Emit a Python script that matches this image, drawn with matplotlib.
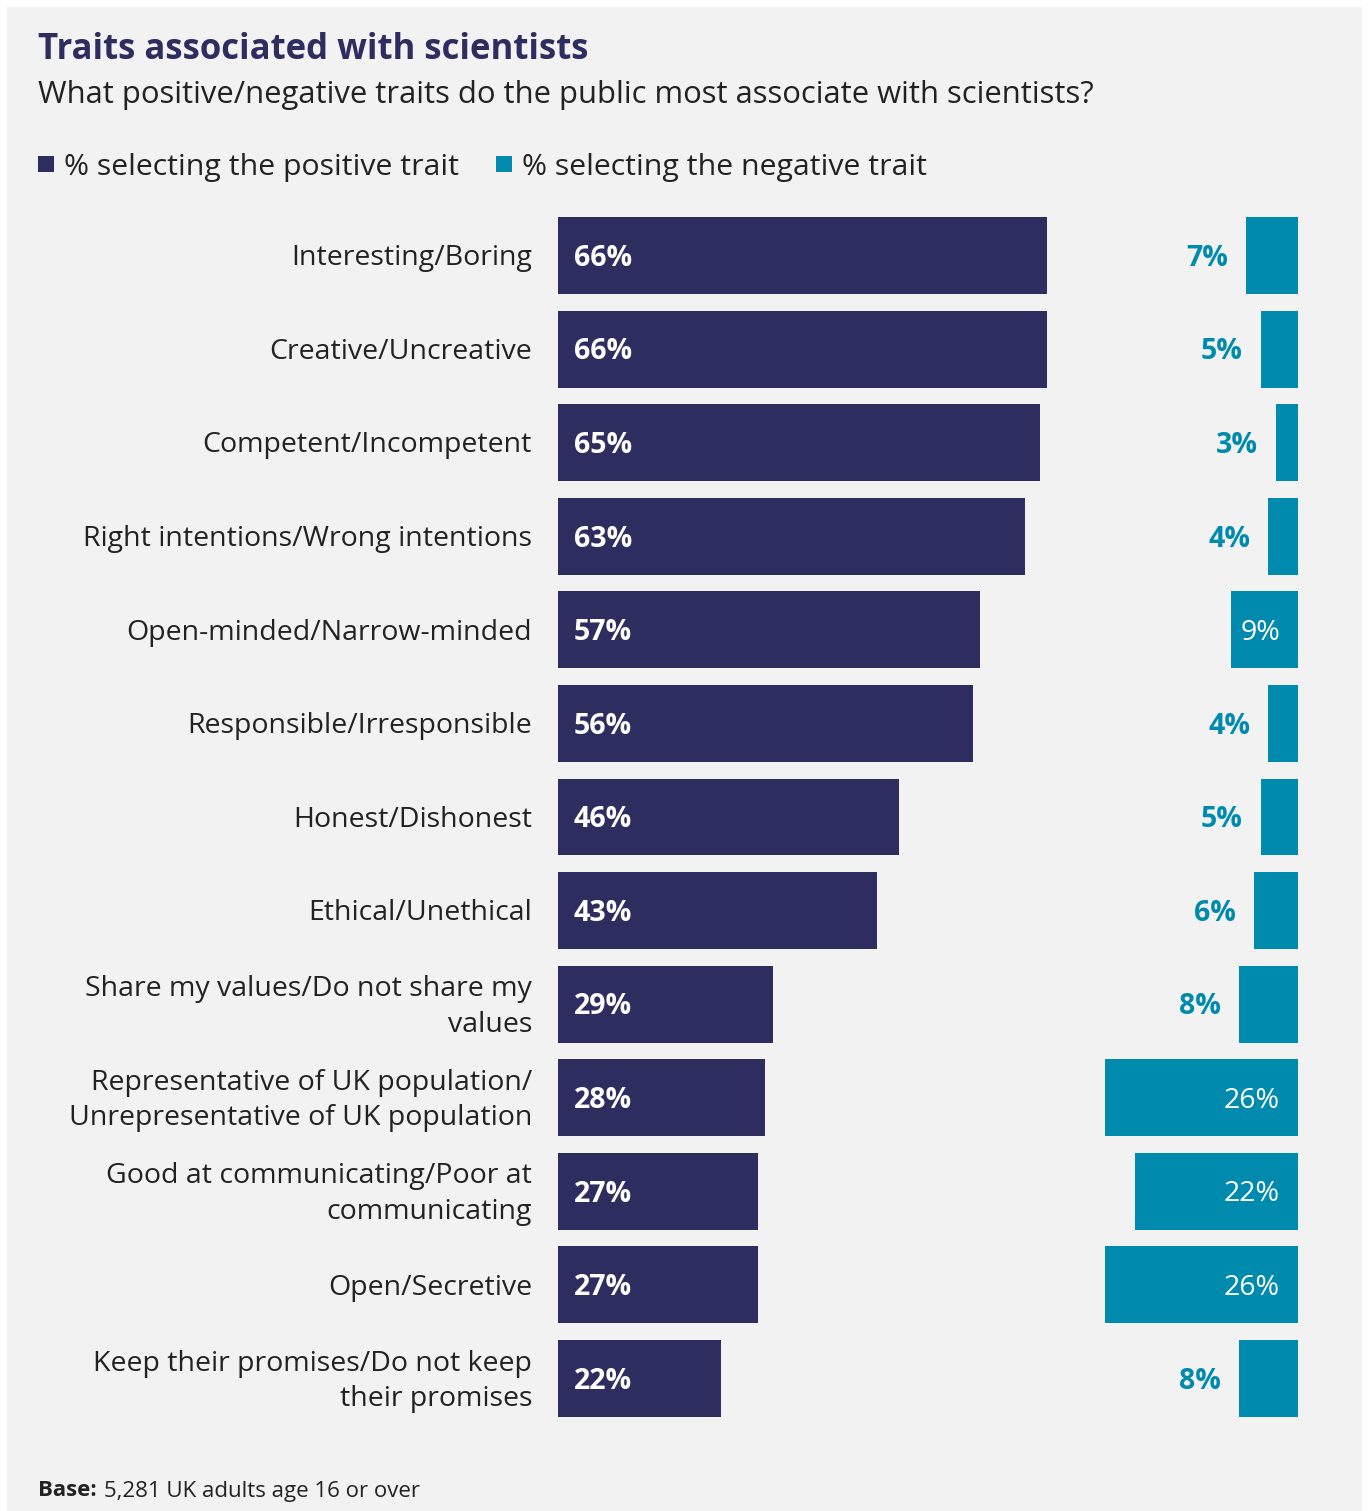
import matplotlib.pyplot as plt
from matplotlib.patches import Rectangle

plt.rcParams['font.family'] = ['Open Sans', 'DejaVu Sans']

traits = [
    "Interesting/Boring",
    "Creative/Uncreative",
    "Competent/Incompetent",
    "Right intentions/Wrong intentions",
    "Open-minded/Narrow-minded",
    "Responsible/Irresponsible",
    "Honest/Dishonest",
    "Ethical/Unethical",
    "Share my values/Do not share my\nvalues",
    "Representative of UK population/\nUnrepresentative of UK population",
    "Good at communicating/Poor at\ncommunicating",
    "Open/Secretive",
    "Keep their promises/Do not keep\ntheir promises",
]
positive = [66, 66, 65, 63, 57, 56, 46, 43, 29, 28, 27, 27, 22]
negative = [7, 5, 3, 4, 9, 4, 5, 6, 8, 26, 22, 26, 8]

NAVY = '#2e2d5f'
TEAL = '#008bae'
BG = '#f2f2f2'
TEXT = '#222222'

W, H = 1370, 1511
fig = plt.figure(figsize=(W / 100, H / 100), dpi=100)
fig.patch.set_facecolor('white')
# grey panel with thin white margin
fig.patches.append(Rectangle((7 / W, 0), (1362 - 7) / W, 1 - 7 / H,
                             transform=fig.transFigure, facecolor=BG,
                             edgecolor='none', zorder=-10))

px_per_pct = 7.41
x_left, x_right = 558, 1298
x_max = (x_right - x_left) / px_per_pct
top, bottom = 217, 1417
pitch = 93.6
pad = (pitch - 77) / 2

ax = fig.add_axes([x_left / W, 1 - (bottom + pad) / H,
                   (x_right - x_left) / W, (bottom - top + 2 * pad) / H])
ax.set_facecolor('none')
ax.set_xlim(0, x_max)
ax.set_ylim(len(traits) - 0.5, -0.5)
ax.axis('off')

bar_h = 77 / pitch
ys = list(range(len(traits)))
ax.barh(ys, positive, height=bar_h, color=NAVY)
ax.barh(ys, negative, left=[x_max - v for v in negative], height=bar_h, color=TEAL)

for y, name, p, n in zip(ys, traits, positive, negative):
    ax.text(16 / px_per_pct, y + 0.03, f"{p}%", color='white', fontsize=20.5,
            fontweight='bold', va='center', ha='left')
    if n >= 9:
        ax.text(x_max - 18 / px_per_pct, y + 0.03, f"{n}%", color='white',
                fontsize=20.5, va='center', ha='right')
    else:
        ax.text(x_max - n - 18 / px_per_pct, y + 0.03, f"{n}%", color=TEAL,
                fontsize=20.5, fontweight='bold', va='center', ha='right')
    ax.text(-26 / px_per_pct, y + 0.03, name, color=TEXT, fontsize=20.5,
            va='center', ha='right', linespacing=1.36)

fig.text(38 / W, 1 - 50 / H, "Traits associated with scientists", color=NAVY,
         fontsize=25, fontweight='bold', va='center', ha='left')
fig.text(38 / W, 1 - 95 / H,
         "What positive/negative traits do the public most associate with scientists?",
         color=TEXT, fontsize=22.3, va='center', ha='left')

# legend
for sx, col, lab in [(38, NAVY, "% selecting the positive trait"),
                     (496, TEAL, "% selecting the negative trait")]:
    fig.patches.append(Rectangle((sx / W, 1 - 172 / H), 16 / W, 16 / H,
                                 transform=fig.transFigure, facecolor=col,
                                 edgecolor='none'))
    fig.text((sx + 26) / W, 1 - 167 / H, lab, color=TEXT, fontsize=21.8,
             va='center', ha='left')

fig.text(38 / W, 1 - 1491 / H, "Base:", color=TEXT, fontsize=16,
         fontweight='bold', va='center', ha='left')
fig.text(104 / W, 1 - 1491 / H, "5,281 UK adults age 16 or over", color=TEXT,
         fontsize=16, va='center', ha='left')

fig.savefig('out.png', dpi=100, facecolor=fig.get_facecolor())
